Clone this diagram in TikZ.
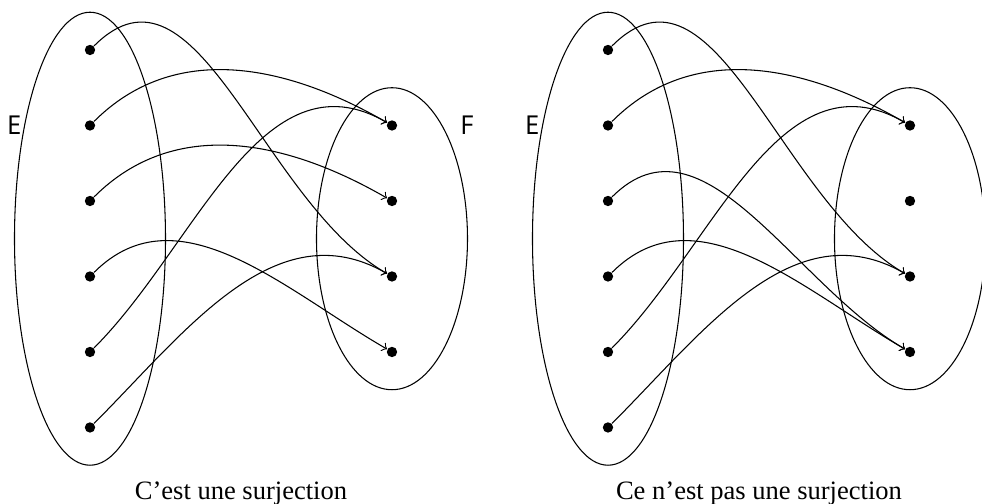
\documentclass[tikz,border=0pt]{standalone}
\usepackage{fontspec}
\setmainfont{Liberation Serif}
\newfontfamily\setlabelfont{PT Sans}
\tikzset{
  pt/.style={circle, fill, inner sep=0pt, minimum size=3.9pt},
  setlab/.style={font=\setlabelfont},
  arr/.style={->, out=45, in=150},
  captext/.style={anchor=base}
}
\begin{document}
\begin{tikzpicture}
\useasboundingbox (0,0) rectangle (13.007,-6.675);
\clip (0,0) rectangle (13.007,-6.675);
% ---------- left diagram: surjection ----------
\coordinate (EL) at (1.192,-3.162);
\coordinate (FL) at (5.192,-3.162);
\draw (EL) ellipse [x radius=1, y radius=3];
\draw (FL) ellipse [x radius=1, y radius=2];
\foreach \i in {1,...,6} \node[pt] (a\i) at (1.192,{-0.662-(\i-1)}) {};
\foreach \i in {1,...,4} \node[pt] (b\i) at (5.192,{-1.662-(\i-1)}) {};
\node[setlab] (lE) at (0.192,-1.662) {E};
\node[setlab] (lF) at (6.192,-1.662) {F};
\draw[arr] (a1) to (b3);
\draw[arr] (a2) to (b1);
\draw[arr] (a3) to (b2);
\draw[arr] (a4) to (b4);
\draw[arr] (a5) to (b1);
\draw[arr] (a6) to (b3);
\node[captext] (capL) at (3.192,-6.613) {C’est une surjection};
% ---------- right diagram: not a surjection ----------
\coordinate (ER) at (8.053,-3.162);
\coordinate (FR) at (12.053,-3.162);
\draw (ER) ellipse [x radius=1, y radius=3];
\draw (FR) ellipse [x radius=1, y radius=2];
\foreach \i in {1,...,6} \node[pt] (c\i) at (8.053,{-0.662-(\i-1)}) {};
\foreach \i in {1,...,4} \node[pt] (d\i) at (12.053,{-1.662-(\i-1)}) {};
\node[setlab] (rE) at (7.053,-1.662) {E};
\node[setlab] (rF) at (13.075,-1.662) {F};
\draw[arr] (c1) to (d3);
\draw[arr] (c2) to (d1);
\draw[arr] (c3) to (d4);
\draw[arr] (c4) to (d4);
\draw[arr] (c5) to (d1);
\draw[arr] (c6) to (d3);
\node[captext] (capR) at (10.053,-6.613) {Ce n’est pas une surjection};
\end{tikzpicture}
\end{document}
